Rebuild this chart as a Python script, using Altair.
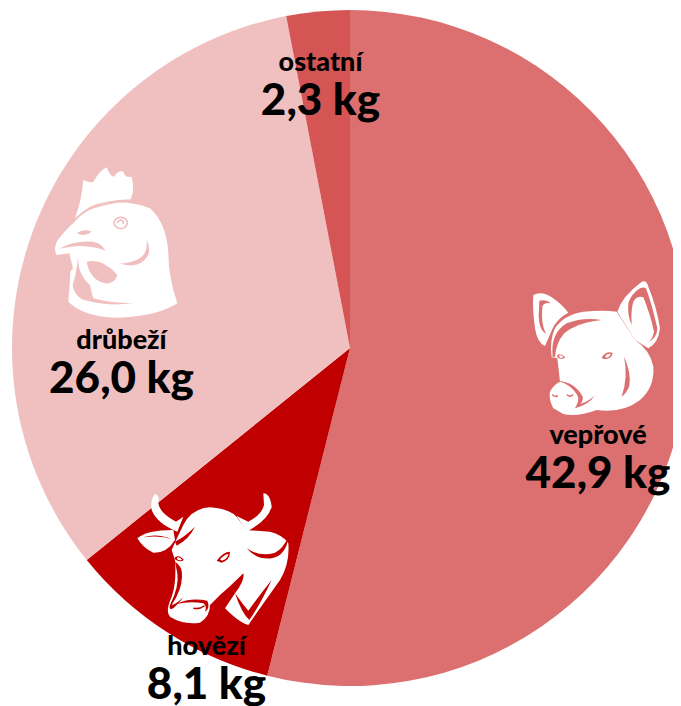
import re
import altair as alt
import pandas as pd

categories = ["vepřové", "hovězí", "drůbeží", "ostatní"]
values = [42.8, 8.15, 26.0, 2.4]  # slice sizes
value_labels = ["42,9 kg", "8,1 kg", "26,0 kg", "2,3 kg"]
colors = ["#DC7070", "#C00000", "#F0C0C0", "#D55555"]

CX, CY, R = 342, 340, 338
# label anchor per category: page x, name baseline, value baseline
anchors = [(598, 444, 488), (206.5, 655, 699), (121.5, 349, 393), (320.5, 71, 115)]

df = pd.DataFrame({"cat": categories, "v": values, "o": range(4)})
one = pd.DataFrame({"a": [0]})


def tf(path, ox, oy):
    """Icon outlines were traced at 3x; move them to chart pixels."""
    def sub(m):
        return f"{ox - 8 + float(m.group(1)) / 3:.2f} {oy - 8 + float(m.group(2)) / 3:.2f}"
    return re.sub(r"(-?\d+(?:\.\d+)?) (-?\d+(?:\.\d+)?)", sub, path)


def filled(path, color):
    return alt.Chart(one).mark_point(shape=path, filled=True, fill=color, opacity=1, strokeWidth=0, size=4).encode(
        x=alt.value(0), y=alt.value(0))


def line(path, color, w=1.6):
    return alt.Chart(one).mark_point(shape=path, filled=False, stroke=color, strokeWidth=w, opacity=1, size=4,
                                     strokeCap="round").encode(x=alt.value(0), y=alt.value(0))


def icon(white, solid, lines, color, ox, oy, glints=()):
    out = [filled(tf(p, ox, oy), "#FFFFFF") for p in white]
    out += [filled(tf(p, ox, oy), color) for p in solid]
    out += [line(tf(p, ox, oy), color) for p in lines]
    out += [filled(tf(p, ox, oy), "#FFFFFF") for p in glints]
    return out


pig = icon(
    white=[
        "M100 105 Q125 92 155 112 Q185 132 205 158 Q172 175 158 205 L135 258 Q112 250 105 205 Q97 150 100 105 Z",
        "M155 292 Q148 240 165 205 Q190 165 250 155 Q310 150 350 155 L405 240 Q450 270 460 320 Q465 380 420 420 Q370 460 290 450 Q230 472 190 462 L160 445 Q145 415 150 395 Q160 375 180 365 Q175 320 172 295 Z",
        "M352 155 Q365 110 425 65 Q440 60 445 80 Q470 140 480 205 Q475 250 445 265 L405 240 Z",
    ],
    solid=[
        "M158 292 Q150 220 200 190 Q250 170 305 180 Q250 185 215 205 Q172 225 165 290 Z",
        "M118 122 Q140 118 152 130 Q132 125 127 140 Q122 190 138 222 Q118 210 116 170 Z",
        "M420 85 Q395 100 385 130 Q382 170 395 195 Q392 150 400 125 Q412 105 430 112 Q450 160 462 215 Q458 240 440 250 Q472 235 472 205 Q455 130 438 85 Q430 80 420 85 Z",
        "M372 290 Q395 340 388 378 Q380 400 365 410 Q385 350 372 290 Z",
        "M172 285 Q182 278 196 292 Q184 302 172 292 Z",
        "M305 292 Q318 272 338 278 Q336 298 310 297 Z",
        "M172 362 Q225 365 248 410 Q250 425 240 432 Q265 425 286 405 Q265 435 225 445 Q240 420 232 405 Q212 372 172 362 Z",
    ],
    lines=[
        "M158 405 Q166 412 172 408",
        "M202 405 Q210 412 218 405",
    ],
    glints=[
        "M178 286 Q186 284 190 291 Q184 296 178 292 Z",
        "M316 288 Q324 280 332 282 Q330 292 318 293 Z",
    ],
    color=colors[0], ox=500, oy=260,
)

cow = icon(
    white=[
        "M190 135 Q215 85 270 82 Q325 85 350 110 L378 150 L450 155 Q490 165 505 190 Q510 250 480 300 Q430 370 385 435 Q360 430 315 385 L345 340 Q375 300 370 280 Q330 320 300 345 L270 375 Q270 410 240 428 Q190 435 150 410 Q135 395 155 350 Q170 310 165 240 L155 210 Q170 175 190 135 Z",
        "M52 175 Q80 150 160 150 L165 180 Q140 220 100 218 Q70 205 52 175 Z",
        "M105 42 Q120 45 115 70 Q120 100 168 125 L190 110 L172 155 Q110 130 95 90 Q90 60 105 42 Z",
        "M430 40 Q450 40 455 80 Q445 120 380 155 L350 108 L385 125 Q425 105 432 75 Z",
    ],
    solid=[
        "M165 185 Q195 170 225 140 Q205 180 170 197 Z",
        "M165 245 Q188 258 186 290 Q185 330 155 375 Q165 375 190 352 Q178 370 160 385 Q145 392 150 375 Q178 320 172 280 Z",
        "M345 340 Q370 375 385 392 Q415 350 455 300 Q420 375 388 420 Q365 400 345 340 Z",
        "M380 205 Q420 232 465 218 Q490 205 505 170 Q500 225 455 235 Q410 240 380 205 Z",
        "M170 372 Q210 352 262 362 Q272 385 255 395 Q262 378 250 370 Q210 362 170 372 Z",
        "M165 232 Q178 222 192 240 Q178 248 165 238 Z",
        "M290 242 Q310 215 330 215 Q330 240 305 248 Z",
        "M70 172 Q110 158 158 178 Q120 165 70 172 Z",
    ],
    lines=[
        "M222 385 Q240 388 252 378",
    ],
    glints=[
        "M171 233 Q178 228 186 239 Q178 243 171 237 Z",
        "M300 238 Q312 224 325 222 Q324 236 306 242 Z",
    ],
    color=colors[1], ox=120, oy=480,
)

hen = icon(
    white=[
        "M105 175 Q125 120 130 60 Q150 70 160 65 Q180 30 200 22 Q210 50 222 50 Q235 30 250 35 Q255 55 275 50 Q285 90 272 118 Q200 120 150 140 Q125 155 105 175 Z",
        "M100 190 Q130 150 200 130 Q270 120 330 145 Q380 190 385 280 Q385 350 412 430 Q350 470 230 473 Q130 470 85 425 L90 360 Q90 320 100 330 L88 280 L50 285 Q40 270 50 245 Q80 205 100 190 Z",
    ],
    solid=[
        "M115 285 Q110 340 150 375 Q155 400 160 415 Q220 432 285 428 Q200 442 125 418 Q100 400 98 375 Q108 345 112 310 Z",
        "M140 305 Q190 295 232 345 Q225 372 195 370 Q150 360 140 305 Z",
        "M55 268 Q100 240 160 245 Q185 250 197 272 Q170 260 120 258 Q80 260 55 268 Z",
        "M110 220 Q130 205 155 215 Q135 232 110 220 Z",
        "M320 240 Q325 285 290 300 Q260 312 235 310 Q300 330 325 285 Q332 260 320 240 Z",
        "M108 172 Q160 128 272 120 Q190 135 145 150 Q125 158 108 172 Z",
    ],
    lines=[
        "M222 190 Q224 172 243 172 Q263 175 262 190 Q258 206 240 206 Q226 204 222 190 Z",
        "M232 188 Q236 180 244 180 Q252 184 250 190",
    ],
    color=colors[2], ox=40, oy=160,
)

pie = alt.Chart(df).mark_arc(radius=R, strokeWidth=0).encode(
    theta=alt.Theta("v:Q", stack=True),
    order=alt.Order("o:Q"),
    color=alt.Color("cat:N", scale=alt.Scale(domain=categories, range=colors), legend=None),
    x=alt.value(CX),
    y=alt.value(CY),
)

texts = []
for cat, val, (ax, y1, y2) in zip(categories, value_labels, anchors):
    texts.append(alt.Chart(one).mark_text(text=cat, font="Lato", fontWeight=900, fontSize=27, color="#000000",
                                          align="center", baseline="alphabetic").encode(x=alt.value(ax - 8), y=alt.value(y1 - 8)))
    texts.append(alt.Chart(one).mark_text(text=val, font="Lato", fontWeight=900, fontSize=44, color="#000000",
                                          align="center", baseline="alphabetic").encode(x=alt.value(ax - 8), y=alt.value(y2 - 8)))

chart = alt.layer(pie, *pig, *cow, *hen, *texts).properties(
    width=665, height=698, padding=0, background="#FFFFFF",
    autosize=alt.AutoSizeParams(type="none"),
).configure_view(stroke=None)

chart.save("out.html", embed_options={"renderer": "svg", "actions": False})
